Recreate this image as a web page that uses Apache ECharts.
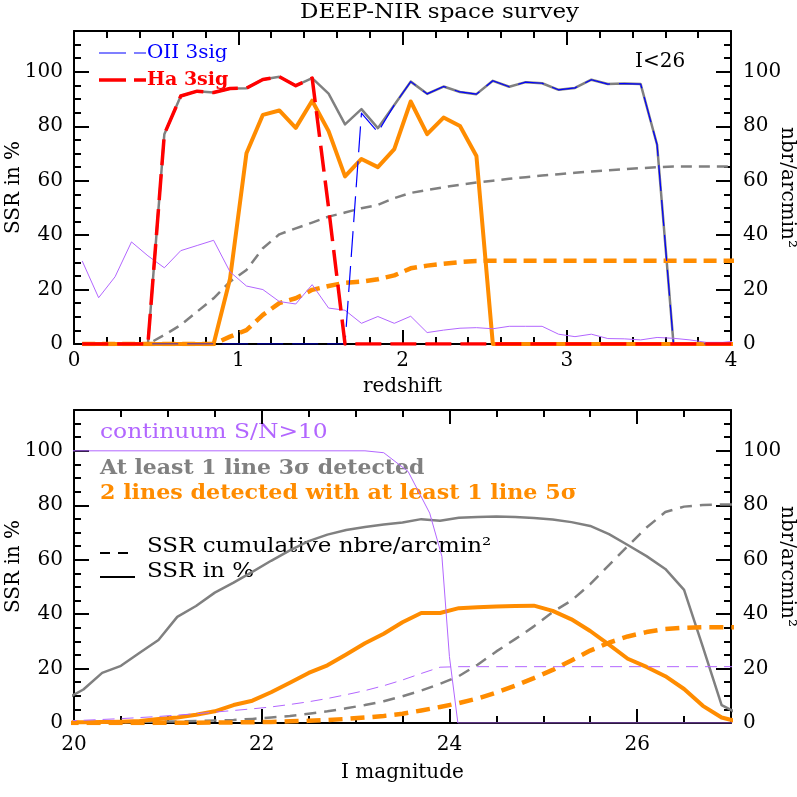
<!DOCTYPE html>
<html><head><meta charset="utf-8">
<script src="https://cdn.jsdelivr.net/npm/echarts@6/dist/echarts.min.js"></script>
<style>html,body{margin:0;padding:0;background:#fff}#c{width:797px;height:797px}</style>
</head><body><div id="c"></div>
<script>
// ---------- Top panel: redshift ----------
const zTop = [0.05,0.15,0.25,0.35,0.45,0.55,0.65,0.75,0.85,0.95,1.05,1.15,1.25,1.35,1.45,1.55,1.65,1.75,1.85,1.95,2.05,2.15,2.25,2.35,2.45,2.55,2.65,2.75,2.85,2.95,3.05,3.15,3.25,3.35,3.45,3.55,3.65,3.75,3.85,3.95,4.05];
const topContinuum = [30.5,17,24.7,37.5,32.4,28,34.3,36.2,38.1,26.5,21.3,20,15.6,14.7,21.8,13.2,12.4,7.6,10.1,7.6,10.2,4.2,5.1,5.8,6.0,5.6,6.5,6.5,6.5,3.6,2.7,3.6,2.0,1.9,1.5,2.4,2.1,1.5,0.6,0.6,1.2];
const topOneLine = [0,0,0,0,0,77.1,91.1,92.9,92.4,93.9,94.0,97.2,98.2,94.9,97.7,92.0,80.7,86.3,79.3,87.8,96.4,91.9,94.6,92.6,91.8,96.7,94.5,96.2,95.8,93.4,94.1,97.1,95.5,95.7,95.5,73.2,0,0,0,0,0];
const topOII = [0,0,0,0,0,0,0,0,0,0,0,0,0,0,0,0,0,84.8,77.8,87.8,96.4,91.9,94.6,92.6,91.8,96.7,94.5,96.2,95.8,93.4,94.1,97.1,95.5,95.7,95.5,73.2,0,0,0,0,0];
const topHa = [0,0,0,0,0,77.1,91.1,92.9,92.4,93.9,94.0,97.2,98.2,94.9,97.7,50,0,0,0,0,0,0,0,0,0,0,0,0,0,0,0,0,0,0,0,0,0,0,0,0,0];
const topTwoLines = [0,0,0,0,0,0,0,0,0,24,70.1,84.2,85.8,79.4,89.4,78.2,61.6,68,65,71.6,89.1,77.1,83.2,80.1,69.1,0,0,0,0,0,0,0,0,0,0,0,0,0,0,0,0];
const topOneLineCum = [0,0,0,0,0,3.3,7,11.9,16.8,22.9,27.2,35.2,40.3,42.5,44.6,46.8,48.3,49.9,51.1,53.6,55.5,56.6,57.6,58.5,59.3,60.0,60.7,61.3,61.9,62.4,62.9,63.4,63.8,64.2,64.6,65.0,65.2,65.2,65.2,65.2,65.2];
const topTwoLinesCum = [0,0,0,0,0,0,0,0,0,2.7,5.1,10.7,15,16.8,19.9,21.3,22.5,22.9,23.8,25.2,27.8,28.8,29.5,30.1,30.5,30.6,30.6,30.6,30.6,30.6,30.6,30.6,30.6,30.6,30.6,30.6,30.6,30.6,30.6,30.6,30.6];
const topXLabels = [0,1,2,3,4];

// ---------- Bottom panel: I magnitude ----------
const iMag = [19.9,20.1,20.3,20.5,20.7,20.9,21.1,21.3,21.5,21.7,21.9,22.1,22.3,22.5,22.7,22.9,23.1,23.3,23.5,23.7,23.9,24.1,24.3,24.5,24.7,24.9,25.1,25.3,25.5,25.7,25.9,26.1,26.3,26.5,26.7,26.9,27.1];
const botOneLine = [8.5,12.3,18.4,21.0,25.8,30.5,39.0,43.0,47.9,51.6,55.5,59.6,63.4,66.8,69.2,70.9,72.0,72.9,73.7,74.9,74.3,75.4,75.7,75.9,75.7,75.3,74.8,73.8,72.4,69.4,65.4,61.3,56.6,48.9,28.0,6.6,3.0];
const botOneLineCum = [0.1,0.2,0.2,0.3,0.4,0.5,0.6,0.7,0.9,1.1,1.5,2.0,2.6,3.4,4.3,5.4,6.6,8.0,9.8,11.9,14.4,17.2,21.4,26.3,30.8,35.5,40.8,45.0,51.0,58.0,65.0,71.8,77.5,79.5,80.1,80.3,80.3];
const botTwoLines = [0.3,0.3,0.4,0.5,0.7,1.5,2.0,3.0,4.3,6.6,8.2,11.3,14.8,18.4,21.2,25.2,29.3,32.8,37.0,40.4,40.4,42.2,42.5,42.8,43.0,43.1,41.2,38.1,33.8,28.8,23.6,20.6,17.2,12.5,6.3,2.0,0.3];
const botTwoLinesCum = [0,0,0,0,0,0.05,0.1,0.1,0.15,0.2,0.3,0.4,0.6,0.8,1.1,1.5,2.0,2.6,3.4,4.6,5.9,7.3,9.0,11.2,13.7,16.5,19.5,23.0,26.6,29.5,31.8,33.4,34.5,35.0,35.2,35.2,35.2];
const botContinuumCum = [0.8,1.0,1.3,1.6,2.0,2.4,2.9,3.4,4.0,4.6,5.2,5.9,6.8,7.8,9.0,10.4,11.9,13.7,15.8,18.2,20.5,20.7,20.7,20.7,20.7,20.7,20.7,20.7,20.7,20.7,20.7,20.7,20.7,20.7,20.7,20.7,20.7];
const contMag = [19.9,23.1,23.3,23.56,23.79,23.92,24.0,24.09,27.1];
const contVal = [100,100,99.3,92.4,77.1,61.2,24.4,0,0];
const botXLabels = [20,22,24,26];
const yLabels = [0,20,40,60,80,100];

const FONT = 'DejaVu Serif';
const GRAY = '#808080', ORANGE = '#ff8c00', PURPLE = '#b266ff', RED = '#ff0000', BLUE = '#0000ff';

function xAxesFor(grid, min, max, interval, minorInterval, labels, name, nameGap, labelMargin) {
  const common = {gridIndex: grid, type: 'value', min, max, splitLine: {show: false}};
  return [
    Object.assign({}, common, {position: 'bottom', interval,
      axisLine: {show: true, onZero: false, lineStyle: {color: '#000', width: 2}},
      axisTick: {show: true, inside: true, length: 14, lineStyle: {color: '#000', width: 2}},
      axisLabel: {show: true, margin: labelMargin, color: '#000', fontFamily: FONT, fontSize: 20,
        formatter: v => labels.indexOf(v) >= 0 ? String(v) : ''},
      name, nameLocation: 'middle', nameGap, nameMoveOverlap: false,
      nameTextStyle: {color: '#000', fontFamily: FONT, fontSize: 20}}),
    Object.assign({}, common, {position: 'bottom', interval: minorInterval,
      axisLine: {show: false, onZero: false}, axisLabel: {show: false},
      axisTick: {show: true, inside: true, length: 7, lineStyle: {color: '#000', width: 2}}}),
    Object.assign({}, common, {position: 'top', interval,
      axisLine: {show: true, onZero: false, lineStyle: {color: '#000', width: 2}}, axisLabel: {show: false},
      axisTick: {show: true, inside: true, length: 14, lineStyle: {color: '#000', width: 2}}}),
    Object.assign({}, common, {position: 'top', interval: minorInterval,
      axisLine: {show: false, onZero: false}, axisLabel: {show: false},
      axisTick: {show: true, inside: true, length: 7, lineStyle: {color: '#000', width: 2}}})
  ];
}
function yAxesFor(grid) {
  const common = {gridIndex: grid, type: 'value', min: 0, max: 115, splitLine: {show: false}};
  const lab = (margin) => ({show: true, margin, color: '#000', fontFamily: FONT, fontSize: 20,
    formatter: v => yLabels.indexOf(v) >= 0 ? String(v) : ''});
  const nts = {color: '#000', fontFamily: FONT, fontSize: 20};
  return [
    Object.assign({}, common, {position: 'left', interval: 20,
      axisLine: {show: true, onZero: false, lineStyle: {color: '#000', width: 2}},
      axisTick: {show: true, inside: true, length: 15, lineStyle: {color: '#000', width: 2}},
      axisLabel: lab(11), name: 'SSR in %', nameLocation: 'middle', nameGap: 50, nameMoveOverlap: false, nameTextStyle: nts}),
    Object.assign({}, common, {position: 'left', interval: 5,
      axisLine: {show: false, onZero: false}, axisLabel: {show: false},
      axisTick: {show: true, inside: true, length: 7, lineStyle: {color: '#000', width: 2}}}),
    Object.assign({}, common, {position: 'right', interval: 20,
      axisLine: {show: true, onZero: false, lineStyle: {color: '#000', width: 2}},
      axisTick: {show: true, inside: true, length: 15, lineStyle: {color: '#000', width: 2}},
      axisLabel: lab(12), name: 'nbr/arcmin²', nameLocation: 'middle', nameGap: 46, nameRotate: -90, nameMoveOverlap: false, nameTextStyle: nts}),
    Object.assign({}, common, {position: 'right', interval: 5,
      axisLine: {show: false, onZero: false}, axisLabel: {show: false},
      axisTick: {show: true, inside: true, length: 7, lineStyle: {color: '#000', width: 2}}})
  ];
}
function line(name, xs, ys, xi, yi, color, width, dash, z) {
  return {type: 'line', name, xAxisIndex: xi, yAxisIndex: yi,
    data: xs.map((x, i) => [x, ys[i]]), showSymbol: false, symbol: 'none', silent: true,
    lineStyle: {color, width, type: dash || 'solid', cap: 'butt', join: 'round'}, z, animation: false};
}
function txt(x, y, text, fill, font, sx) {
  return {type: 'text', x, y, scaleX: sx || 1, style: {text, fill, font, textVerticalAlign: 'middle'}};
}

const option = {
  animation: false,
  backgroundColor: '#fff',
  grid: [
    {left: 74, right: 66, top: 31, height: 313, outerBoundsMode: 'none', containLabel: false},
    {left: 74, right: 66, top: 410, height: 313, outerBoundsMode: 'none', containLabel: false}
  ],
  xAxis: [].concat(
    xAxesFor(0, 0, 4, 1, 0.2, topXLabels, 'redshift', 33, 7),
    xAxesFor(1, 20, 27, 2, 0.5, botXLabels, 'I magnitude', 40, 12)
  ),
  yAxis: [].concat(yAxesFor(0), yAxesFor(1)),
  series: [
    line('At least 1 line 3sig', zTop, topOneLine, 0, 0, GRAY, 2.5, null, 2),
    line('At least 1 line cumulative', zTop, topOneLineCum, 0, 2, GRAY, 2.5, [11, 7], 3),
    line('2 lines cumulative', zTop, topTwoLinesCum, 0, 2, ORANGE, 4.5, [13, 7], 4),
    line('2 lines', zTop, topTwoLines, 0, 0, ORANGE, 4, null, 5),
    line('continuum S/N>10', zTop, topContinuum, 0, 0, PURPLE, 1, null, 6),
    line('OII 3sig', zTop, topOII, 0, 0, BLUE, 1.2, [26, 9], 7),
    line('Ha 3sig', zTop, topHa, 0, 0, RED, 3.5, [26, 9], 8),

    line('At least 1 line 3sig (I)', iMag, botOneLine, 4, 4, GRAY, 2.5, null, 2),
    line('At least 1 line cumulative (I)', iMag, botOneLineCum, 4, 6, GRAY, 2.5, [12, 8], 3),
    line('2 lines (I)', iMag, botTwoLines, 4, 4, ORANGE, 4, null, 4),
    line('2 lines cumulative (I)', iMag, botTwoLinesCum, 4, 6, ORANGE, 4.5, [14, 8], 5),
    line('continuum (I)', contMag, contVal, 4, 4, PURPLE, 1, null, 6),
    line('continuum cumulative (I)', iMag, botContinuumCum, 4, 6, PURPLE, 1, [12, 7], 6)
  ],
  graphic: [
    txt(300, 13, 'DEEP-NIR space survey', '#000', '20px "DejaVu Serif"', 1.15),
    {type: 'line', shape: {x1: 99, y1: 53, x2: 146, y2: 53}, style: {stroke: BLUE, lineWidth: 1.2, lineDash: [27, 8]}},
    txt(147, 53, 'OII 3sig', BLUE, '19px "DejaVu Serif"', 1.05),
    {type: 'line', shape: {x1: 99, y1: 80, x2: 146, y2: 80}, style: {stroke: RED, lineWidth: 3.5, lineDash: [27, 8]}},
    txt(147, 80, 'Ha 3sig', RED, 'bold 19px "DejaVu Serif"', 1.0),
    txt(635, 62, 'I<26', '#000', '20px "DejaVu Serif"', 1.0),

    txt(100, 433, 'continuum S/N>10', PURPLE, '20px "DejaVu Serif"', 1.17),
    txt(100, 469, 'At least 1 line 3σ detected', GRAY, 'bold 20px "DejaVu Serif"', 1.1),
    txt(100, 494, '2 lines detected with at least 1 line 5σ', ORANGE, 'bold 20px "DejaVu Serif"', 1.11),
    {type: 'line', shape: {x1: 100, y1: 553, x2: 128, y2: 553}, style: {stroke: '#000', lineWidth: 2, lineDash: [10, 8]}},
    txt(147, 547, 'SSR cumulative nbre/arcmin²', '#000', '20px "DejaVu Serif"', 1.15),
    {type: 'line', shape: {x1: 100, y1: 577, x2: 135, y2: 577}, style: {stroke: '#000', lineWidth: 2}},
    txt(147, 572, 'SSR in %', '#000', '20px "DejaVu Serif"', 1.15)
  ]
};
const chart = echarts.init(document.getElementById('c'), null, {renderer: 'canvas'});
chart.setOption(option);
</script>
</body></html>
